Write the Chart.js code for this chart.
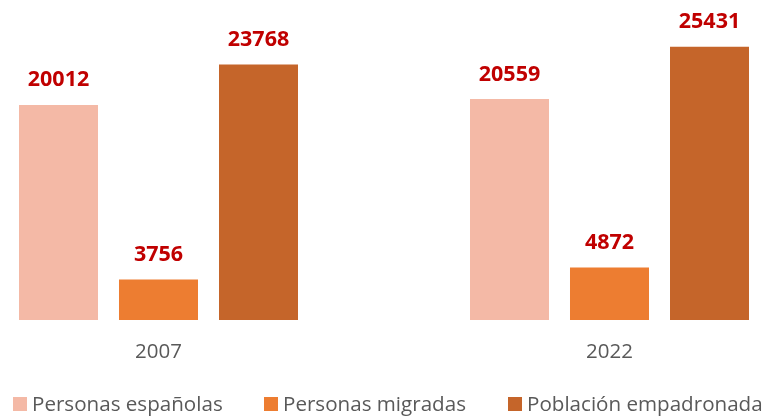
<!DOCTYPE html>
<html><head><meta charset="utf-8">
<script src="https://cdn.jsdelivr.net/npm/chart.js@4.4.1/dist/chart.umd.min.js"></script>
<style>html,body{margin:0;padding:0;background:#fff;overflow:hidden}#wrap{position:relative;width:766px;height:418px;overflow:hidden}#c{position:absolute;left:-67px;top:0}</style>
</head><body><div id="wrap"><canvas id="c" width="902" height="418"></canvas></div>
<script>
const categories = ['2007', '2022'];
const seriesNames = ['Personas españolas', 'Personas migradas', 'Población empadronada'];
const espanolas = [20012, 20559];
const migradas = [3756, 4872];
const empadronada = [23768, 25431];
const colors = ['#F4B9A6', '#ED7D31', '#C5652A'];

const CANVAS_SHIFT = 67;
const legendStarts = [13, 264, 508];

const labelPlugin = {
  id: 'valueLabels',
  afterDatasetsDraw(chart) {
    const ctx = chart.ctx;
    ctx.save();
    ctx.font = 'bold 21.5px "Open Sans"';
    ctx.fillStyle = '#C00000';
    ctx.textAlign = 'center';
    ctx.textBaseline = 'alphabetic';
    chart.data.datasets.forEach((ds, i) => {
      const meta = chart.getDatasetMeta(i);
      meta.data.forEach((bar, j) => {
        ctx.fillText(String(ds.data[j]), bar.x, bar.y - 18.5);
      });
    });
    ctx.restore();
  }
};

const legendPlugin = {
  id: 'customLegend',
  afterDraw(chart) {
    const ctx = chart.ctx;
    ctx.save();
    ctx.font = '20.6px "Open Sans"';
    ctx.textBaseline = 'alphabetic';
    ctx.textAlign = 'left';
    chart.data.datasets.forEach((ds, i) => {
      const x = legendStarts[i] + CANVAS_SHIFT;
      ctx.fillStyle = ds.backgroundColor;
      ctx.fillRect(x, 397, 14, 14);
      ctx.fillStyle = '#595959';
      ctx.fillText(ds.label, x + 19, 411);
    });
    ctx.restore();
  }
};

new Chart(document.getElementById('c'), {
  type: 'bar',
  data: {
    labels: categories,
    datasets: [
      { label: seriesNames[0], data: espanolas, backgroundColor: colors[0] },
      { label: seriesNames[1], data: migradas, backgroundColor: colors[1] },
      { label: seriesNames[2], data: empadronada, backgroundColor: colors[2] }
    ]
  },
  options: {
    responsive: false,
    animation: false,
    layout: { padding: { left: 0, right: 0, top: 0, bottom: 42.5 } },
    categoryPercentage: 0.6652,
    barPercentage: 0.79,
    scales: {
      x: {
        grid: { display: false },
        border: { display: false },
        ticks: { color: '#595959', font: { family: '"Open Sans"', size: 20.5 }, padding: 11.5 }
      },
      y: { display: false, min: 0, max: 29785 }
    },
    plugins: {
      legend: { display: false },
      tooltip: { enabled: false }
    }
  },
  plugins: [labelPlugin, legendPlugin]
});
</script></body></html>
